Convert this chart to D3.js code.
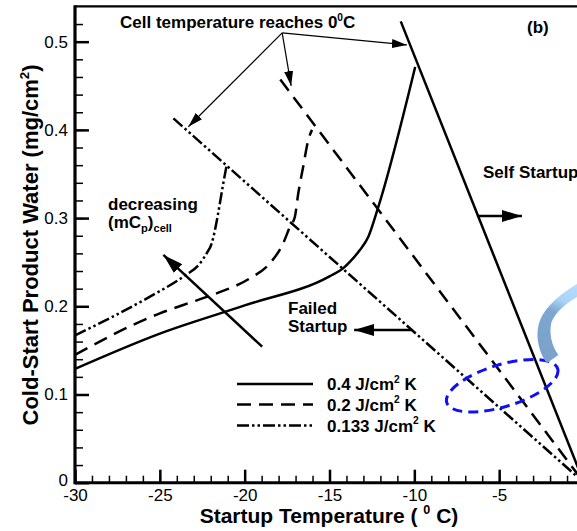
<!DOCTYPE html>
<html>
<head>
<meta charset="utf-8">
<script src="https://cdn.jsdelivr.net/npm/d3@7"></script>
<style>
  body { margin: 0; background: #fff; }
  svg { display: block; font-family: "Liberation Sans", Arial, sans-serif; }
</style>
</head>
<body>
<svg width="577" height="531"></svg>
<script>
// series: startup temperature (C) vs cold-start product water (mg/cm2)
var seriesNames = ["0.4 J/cm", "0.2 J/cm", "0.133 J/cm"];

var tempHigh = [-30, -25, -20, -15, -14.2, -13.79, -13.21, -12.71, -12.12, -9.95];
var waterHigh = [0.129, 0.169, 0.201, 0.234, 0.243, 0.2506, 0.2638, 0.2789, 0.3129, 0.4714];

var tempMid = [-30, -25, -23.62, -21.65, -19.69, -18.51, -17.73, -17.33, -17.04, -16.84, -16.55, -16.25, -16.03];
var waterMid = [0.145, 0.192, 0.2015, 0.2147, 0.2317, 0.2488, 0.2714, 0.2902, 0.3016, 0.3281, 0.3583, 0.3886, 0.400];

var tempLow = [-30, -25.58, -23.62, -22.63, -22.24, -21.94, -21.75, -21.46, -21.26, -21.06];
var waterLow = [0.167, 0.211, 0.2336, 0.2488, 0.2601, 0.2714, 0.2865, 0.3168, 0.3395, 0.360];

// "cell reaches 0C" lines, all end at (0,0)
var limitTemp = [-10.8, -17.9, -24.2];
var limitWater = [0.523, 0.457, 0.413];

var xMajor = [-30, -25, -20, -15, -10, -5, 0];
var yMajor = [0, 0.1, 0.2, 0.3, 0.4, 0.5];

var dashes = [null, "14,8", "12,3,2.5,3,2.5,3"];

//Scales
var x = d3.scaleLinear().domain([-30, 0]).range([75, 584]);
var y = d3.scaleLinear().domain([0, 0.54]).range([482.7, 6.4]);

var svg = d3.select("svg");

var defs = svg.append("defs");
function marker(id, len, wid) {
    defs.append("marker")
        .attr("id", id)
        .attr("markerUnits", "userSpaceOnUse")
        .attr("viewBox", "0 0 " + len + " " + wid)
        .attr("refX", len).attr("refY", wid / 2)
        .attr("markerWidth", len).attr("markerHeight", wid)
        .attr("orient", "auto")
        .append("path")
        .attr("d", "M0,0L" + len + "," + (wid / 2) + "L0," + wid + "Z")
        .attr("fill", "#000");
}
marker("headThin", 15, 9);
marker("headBig", 20, 12);

var grad = defs.append("linearGradient").attr("id", "swoosh")
    .attr("gradientUnits", "userSpaceOnUse")
    .attr("x1", 545).attr("y1", 360).attr("x2", 577).attr("y2", 288);
grad.append("stop").attr("offset", "0").attr("stop-color", "#7ba1ca");
grad.append("stop").attr("offset", "0.6").attr("stop-color", "#7ea6d0");
grad.append("stop").attr("offset", "0.78").attr("stop-color", "#a9d3f7");
grad.append("stop").attr("offset", "1").attr("stop-color", "#b4dbfb");

//Minor ticks
svg.append("g").attr("transform", "translate(0," + y(0) + ")")
    .call(d3.axisBottom(x).tickValues(d3.range(-30, 1)).tickSize(-7).tickFormat(""))
    .call(g => g.select(".domain").remove())
    .selectAll("line").attr("stroke-width", 1.5);
svg.append("g").attr("transform", "translate(" + x(-30) + ",0)")
    .call(d3.axisLeft(y).tickValues(d3.range(0, 0.53, 0.02)).tickSize(-8).tickFormat(""))
    .call(g => g.select(".domain").remove())
    .selectAll("line").attr("stroke-width", 1.5);

//Major ticks + labels
var xAxis = svg.append("g").attr("transform", "translate(0," + y(0) + ")")
    .call(d3.axisBottom(x).tickValues(xMajor).tickSize(-13).tickPadding(6)
        .tickFormat(d => d === 0 ? "" : String(d)))
    .call(g => g.select(".domain").remove());
xAxis.selectAll("line").attr("stroke-width", 2.5);
xAxis.selectAll("text").attr("font-size", 17).attr("fill", "#000")
    .attr("font-family", "Liberation Sans, Arial, sans-serif");

var yAxis = svg.append("g").attr("transform", "translate(" + x(-30) + ",0)")
    .call(d3.axisLeft(y).tickValues(yMajor).tickSize(-14).tickPadding(7)
        .tickFormat(d => d === 0 ? "0" : d3.format(".1f")(d)))
    .call(g => g.select(".domain").remove());
yAxis.selectAll("line").attr("stroke-width", 2.5);
yAxis.selectAll("text").attr("font-size", 17).attr("fill", "#000")
    .attr("font-family", "Liberation Sans, Arial, sans-serif");
// the "0" sits just above the "-30"
yAxis.selectAll(".tick").filter(d => d === 0).select("text").attr("dy", "0.15em");

//Frame
svg.append("line").attr("x1", x(-30)).attr("x2", x(0)).attr("y1", y(0)).attr("y2", y(0))
    .attr("stroke", "#000").attr("stroke-width", 3);
svg.append("line").attr("x1", x(-30)).attr("x2", x(-30)).attr("y1", y(0) + 1.5).attr("y2", y(0.54) - 1.2)
    .attr("stroke", "#000").attr("stroke-width", 3.2);
svg.append("line").attr("x1", x(-30)).attr("x2", x(0)).attr("y1", y(0.54)).attr("y2", y(0.54))
    .attr("stroke", "#000").attr("stroke-width", 2.4);

//Curves
var line = d3.line().x(d => x(d[0])).y(d => y(d[1])).curve(d3.curveMonotoneX);
var curves = [
    d3.zip(tempHigh, waterHigh),
    d3.zip(tempMid, waterMid),
    d3.zip(tempLow, waterLow)
];
var plot = svg.append("g");
curves.forEach(function (c, i) {
    plot.append("path").datum(c)
        .attr("d", line)
        .attr("fill", "none").attr("stroke", "#000")
        .attr("stroke-width", 2.5)
        .attr("stroke-dasharray", dashes[i]);
});

//Zero-temperature limit lines
limitTemp.forEach(function (t, i) {
    plot.append("path").datum([[t, limitWater[i]], [0, 0]])
        .attr("d", d3.line().x(d => x(d[0])).y(d => y(d[1])))
        .attr("fill", "none").attr("stroke", "#000")
        .attr("stroke-width", 2.5)
        .attr("stroke-dasharray", dashes[i]);
});

//Annotation arrows
function arrow(from, to, w, head) {
    svg.append("line")
        .attr("x1", x(from[0])).attr("y1", y(from[1]))
        .attr("x2", x(to[0])).attr("y2", y(to[1]))
        .attr("stroke", "#000").attr("stroke-width", w)
        .attr("marker-end", "url(#" + head + ")");
}
var origin = [-17.79, 0.510];
arrow(origin, [-23.32, 0.4036], 1.2, "headThin");
arrow(origin, [-17.26, 0.4498], 1.2, "headThin");
arrow(origin, [-10.44, 0.4963], 1.2, "headThin");
arrow([-6.31, 0.3024], [-3.66, 0.3024], 2.5, "headBig");
arrow([-10.15, 0.1731], [-13.55, 0.1731], 2.5, "headBig");
arrow([-18.97, 0.1542], [-24.79, 0.2582], 2.5, "headBig");

//Blue ellipse and swoosh
svg.append("ellipse")
    .attr("transform", "translate(" + x(-4.82) + "," + y(0.110) + ") rotate(-17)")
    .attr("rx", 58).attr("ry", 21)
    .attr("fill", "none").attr("stroke", "#1010f0").attr("stroke-width", 3)
    .attr("stroke-dasharray", "10,6");

svg.append("path")
    .attr("d", "M546.7,363.3 C539,352 535.5,338 538.5,325 C542,311 555,297 577,284 L577,297 C565,304 556,312 551.5,322 C549,332 551,345 558.3,355 Z")
    .attr("fill", "url(#swoosh)");

//Texts
function txt(xp, yp, size) {
    return svg.append("text").attr("x", xp).attr("y", yp)
        .attr("font-size", size).attr("font-weight", "bold").attr("fill", "#000");
}
function sup(t, s, size) {
    t.append("tspan").attr("dy", -0.42 * size).attr("font-size", 0.6 * size).text(s);
    return t.append("tspan").attr("dy", 0.42 * size);
}
function sub(t, s, size) {
    t.append("tspan").attr("dy", 0.25 * size).attr("font-size", 0.65 * size).text(s);
    return t.append("tspan").attr("dy", -0.25 * size);
}

var t1 = txt(120, 28, 17).text("Cell temperature reaches 0");
sup(t1, "0", 17).text("C");

txt(527, 33, 17).text("(b)");
txt(483, 178, 17).text("Self Startup");
txt(288, 314, 17).text("Failed");
txt(288, 332, 17).text("Startup");
txt(108, 210, 17).text("decreasing");

var t2 = txt(108, 228, 17).text("(mC");
sub(t2, "p", 17).text(")");
t2.append("tspan").attr("dy", 0.25 * 17).attr("font-size", 0.65 * 17).text("cell");

//Legend
var legendY = [384, 404.5, 425.5];
var legendTextY = [390, 410.5, 431.5];
seriesNames.forEach(function (n, i) {
    svg.append("line").attr("x1", 237).attr("x2", 313)
        .attr("y1", legendY[i]).attr("y2", legendY[i])
        .attr("stroke", "#000").attr("stroke-width", 2.5)
        .attr("stroke-dasharray", dashes[i]);
    var t = txt(327, legendTextY[i], 17).text(n);
    sup(t, "2", 17).text(" K");
});

//Axis titles
var xt = svg.append("text").attr("x", 329).attr("y", 523).attr("text-anchor", "middle")
    .attr("font-size", 21).attr("font-weight", "bold").text("Startup Temperature ( ");
sup(xt, "0", 21).text(" C)");

var yt = svg.append("text").attr("transform", "translate(38,245) rotate(-90)")
    .attr("text-anchor", "middle")
    .attr("font-size", 22).attr("font-weight", "bold").text("Cold-Start Product Water (mg/cm");
sup(yt, "2", 22).text(")");
</script>
</body>
</html>
